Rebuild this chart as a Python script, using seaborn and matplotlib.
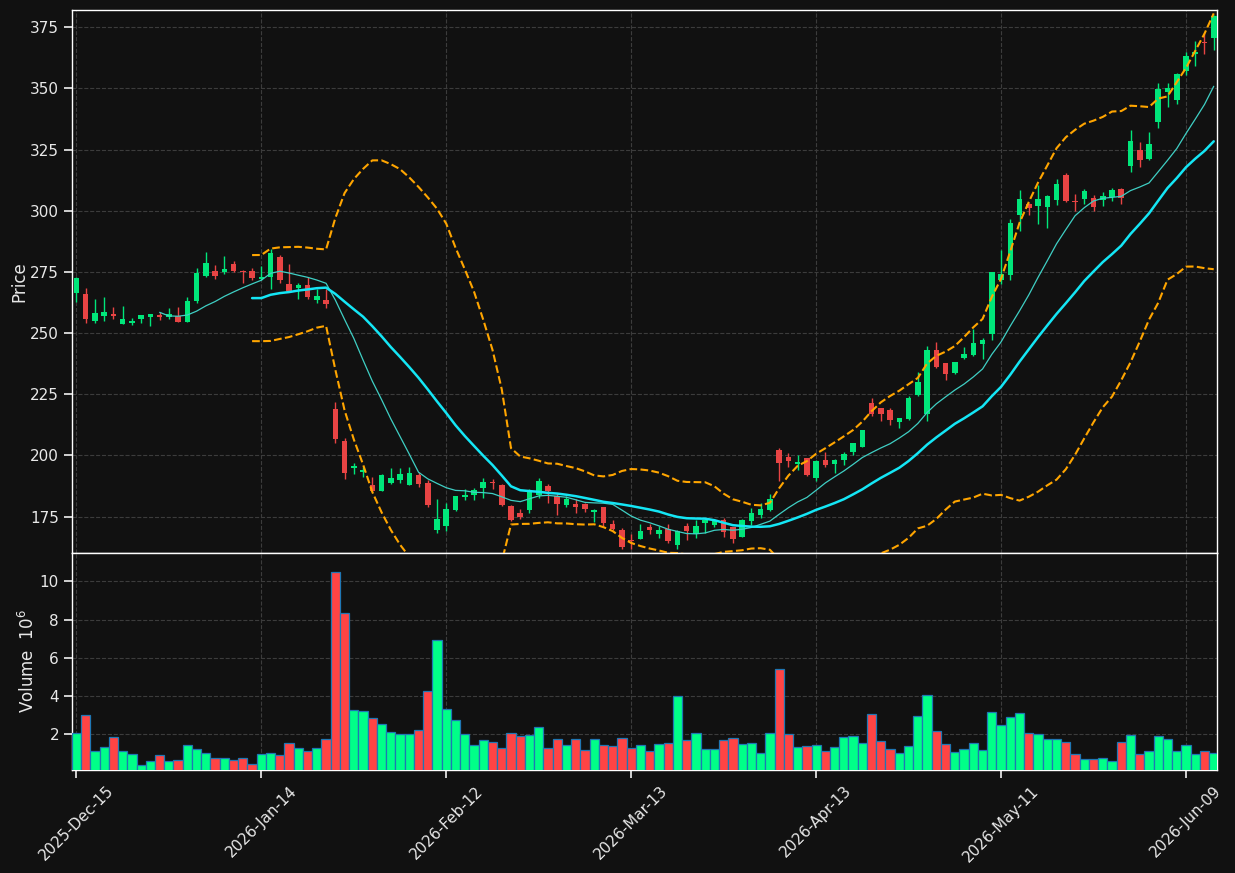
import numpy as np
import pandas as pd
import matplotlib
matplotlib.use("Agg")
import matplotlib.pyplot as plt
from matplotlib.ticker import MultipleLocator, FixedLocator
import seaborn as sns

# daily OHLC (one row per trading day)
opens = [266.5, 266.0, 254.9, 257.0, 257.8, 253.8, 254.2, 255.9, 256.7, 257.4,
         256.7, 257.0, 254.5, 263.1, 273.3, 275.4, 274.9, 278.2, 275.2, 275.4,
         272.0, 273.0, 281.1, 270.0, 268.4, 269.6, 263.5, 263.5, 218.9, 205.8,
         194.9, 193.4, 187.7, 185.6, 188.6, 190.1, 187.7, 191.8, 188.6, 169.7,
         171.3, 177.6, 182.8, 183.7, 186.5, 189.3, 187.7, 179.5, 176.5, 177.5,
         184.0, 187.3, 183.2, 179.9, 180.2, 180.3, 176.8, 178.7, 172.0, 169.7,
         165.5, 166.0, 170.6, 167.8, 170.0, 163.5, 171.3, 167.8, 172.5, 171.7,
         173.4, 170.6, 166.8, 173.1, 175.8, 177.7, 202.0, 199.5, 196.5, 198.9,
         190.7, 198.3, 196.3, 198.3, 201.2, 203.6, 221.6, 219.2, 218.4, 213.6,
         214.7, 224.6, 217.0, 242.9, 237.6, 233.6, 239.7, 241.1, 245.6, 249.6,
         271.5, 273.6, 298.1, 302.9, 301.8, 301.4, 304.2, 314.5, 303.8, 304.7,
         305.3, 304.2, 305.6, 309.0, 318.3, 325.0, 321.0, 336.3, 348.4, 345.1,
         357.0, 364.2, 368.9, 370.6]
highs = [272.9, 268.3, 263.8, 264.6, 260.5, 260.9, 256.0, 257.4, 257.8, 258.7,
         260.1, 260.5, 264.6, 276.4, 283.0, 277.8, 281.4, 279.4, 275.8, 276.6,
         277.4, 284.2, 281.9, 278.2, 270.6, 272.9, 267.9, 267.9, 221.8, 206.9,
         196.7, 195.2, 191.1, 192.2, 194.8, 194.8, 195.4, 193.1, 190.0, 182.0,
         180.5, 183.5, 186.3, 186.7, 190.8, 190.4, 188.4, 179.8, 178.1, 186.3,
         190.8, 188.4, 184.5, 183.2, 182.1, 180.5, 178.1, 179.1, 173.6, 170.2,
         167.9, 172.0, 172.0, 171.2, 172.0, 169.5, 172.4, 173.6, 174.0, 174.2,
         174.5, 170.9, 174.0, 178.5, 180.5, 184.3, 203.1, 201.0, 200.1, 199.1,
         198.2, 201.3, 198.4, 201.4, 205.1, 210.4, 223.5, 219.4, 219.4, 215.4,
         224.1, 234.0, 244.5, 246.3, 237.8, 238.3, 244.3, 251.8, 248.1, 274.8,
         283.8, 296.7, 308.3, 303.2, 310.4, 306.3, 313.1, 315.4, 306.7, 309.0,
         306.3, 307.7, 309.4, 309.3, 333.1, 328.1, 332.2, 352.0, 352.0, 356.3,
         364.9, 369.4, 372.7, 379.8]
lows = [262.8, 254.0, 254.2, 255.0, 255.9, 253.8, 253.4, 254.2, 253.0, 255.3,
        255.9, 254.5, 254.5, 262.1, 272.9, 272.1, 274.1, 274.9, 270.3, 271.7,
        271.7, 267.9, 270.3, 266.8, 263.8, 263.8, 262.4, 260.1, 204.9, 190.3,
        192.2, 191.1, 185.4, 185.6, 188.4, 188.6, 187.7, 187.0, 178.8, 168.3,
        169.0, 177.3, 181.8, 181.8, 182.6, 186.3, 179.4, 173.1, 173.9, 176.4,
        182.6, 180.5, 175.5, 179.1, 176.4, 176.9, 172.7, 171.3, 169.3, 161.8,
        161.8, 165.7, 167.9, 166.3, 164.1, 161.8, 165.5, 166.3, 168.2, 170.9,
        166.5, 164.1, 166.5, 171.5, 174.5, 177.2, 189.5, 195.2, 194.1, 191.5,
        189.5, 195.2, 192.7, 196.1, 200.2, 203.4, 216.0, 213.9, 212.5, 211.3,
        214.3, 224.4, 213.9, 235.8, 230.9, 233.3, 239.3, 240.8, 239.5, 247.3,
        269.9, 271.8, 291.8, 298.1, 294.7, 293.1, 302.2, 303.7, 299.9, 302.6,
        299.9, 302.1, 304.0, 302.9, 315.8, 317.9, 320.9, 333.6, 342.4, 343.8,
        355.4, 359.1, 364.2, 365.6]
closes = [272.5, 255.7, 258.2, 258.6, 257.0, 255.7, 255.0, 257.4, 257.8, 256.7,
          257.8, 254.5, 263.1, 274.5, 278.6, 273.3, 276.2, 275.4, 274.9, 272.5,
          272.8, 282.7, 271.7, 267.2, 269.6, 264.7, 265.1, 262.0, 206.8, 192.9,
          195.6, 194.1, 185.6, 191.8, 190.8, 192.5, 192.9, 188.1, 179.9, 174.2,
          177.9, 183.2, 184.0, 185.9, 189.3, 188.6, 179.6, 173.6, 174.7, 185.9,
          189.5, 185.6, 180.0, 182.0, 179.1, 178.0, 177.5, 172.3, 169.8, 162.5,
          165.2, 168.9, 169.4, 169.3, 165.2, 169.0, 168.9, 171.2, 173.4, 173.4,
          168.6, 165.7, 173.4, 176.6, 178.0, 182.2, 196.8, 197.9, 197.1, 191.8,
          197.9, 195.9, 198.2, 200.6, 204.9, 210.2, 216.9, 216.9, 214.4, 215.1,
          223.5, 229.8, 242.9, 236.1, 233.3, 238.0, 241.5, 246.0, 247.0, 274.8,
          274.2, 295.1, 304.9, 301.1, 304.9, 305.9, 310.8, 304.0, 303.6, 307.9,
          301.5, 306.2, 308.6, 305.2, 328.4, 320.6, 327.4, 349.9, 350.0, 356.0,
          363.1, 364.9, 368.6, 379.5]
# volume in millions
volumes = [2.05, 3.0, 1.1, 1.32, 1.84, 1.1, 0.95, 0.37, 0.58, 0.9,
           0.58, 0.63, 1.42, 1.21, 1.0, 0.72, 0.74, 0.63, 0.74, 0.42,
           0.95, 1.0, 0.9, 1.53, 1.26, 1.1, 1.26, 1.74, 10.47, 8.32,
           3.26, 3.21, 2.84, 2.53, 2.1, 2.0, 2.0, 2.21, 4.26, 6.95,
           3.32, 2.74, 2.0, 1.42, 1.68, 1.58, 1.26, 2.05, 1.9, 1.95,
           2.37, 1.26, 1.74, 1.42, 1.74, 1.16, 1.74, 1.42, 1.37, 1.79,
           1.26, 1.42, 1.1, 1.47, 1.53, 4.0, 1.68, 2.05, 1.21, 1.21,
           1.68, 1.79, 1.47, 1.53, 1.0, 2.05, 5.42, 2.0, 1.32, 1.37,
           1.42, 1.1, 1.32, 1.84, 1.9, 1.53, 3.05, 1.63, 1.21, 1.0,
           1.37, 2.95, 4.05, 2.16, 1.47, 1.05, 1.21, 1.53, 1.16, 3.16,
           2.47, 2.89, 3.1, 2.05, 2.0, 1.74, 1.74, 1.58, 0.95, 0.68,
           0.68, 0.74, 0.58, 1.58, 1.95, 0.95, 1.1, 1.9, 1.74, 1.1,
           1.42, 0.95, 1.1, 1.0]

start_date = "2025-12-15"
holidays = ["2025-12-25", "2026-01-01", "2026-01-19", "2026-02-16",
            "2026-04-03", "2026-05-25"]

dates = pd.date_range(start_date, periods=len(closes),
                      freq=pd.offsets.CustomBusinessDay(holidays=holidays))
df = pd.DataFrame({"open": opens, "high": highs, "low": lows,
                   "close": closes, "volume": volumes}, index=dates)
df["ma10"] = df["close"].rolling(10).mean()
df["ma20"] = df["close"].rolling(20).mean()
std20 = df["close"].rolling(20).std(ddof=0)
df["bb_up"] = df["ma20"] + 2 * std20
df["bb_lo"] = df["ma20"] - 2 * std20
idx = np.arange(len(df))

bg = "#111111"
sns.set_theme(style="dark", rc={
    "figure.facecolor": bg, "axes.facecolor": bg, "axes.edgecolor": "white",
    "axes.labelcolor": "#e8e8e8", "xtick.color": "#e8e8e8",
    "ytick.color": "#e8e8e8", "text.color": "#e8e8e8",
    "grid.color": "#3c3c3c", "grid.linestyle": "--", "grid.linewidth": 0.8,
    "xtick.bottom": True, "ytick.left": True,
})
plt.rcParams["font.family"] = ["DejaVu Sans"]
plt.rcParams["font.size"] = 10

fig = plt.figure(figsize=(12.35, 8.73), dpi=100)
ax1 = fig.add_axes([0.0585, 0.3671, 0.9269, 0.6214])
ax2 = fig.add_axes([0.0585, 0.1180, 0.9269, 0.2491], sharex=ax1)

up = df["close"].values >= df["open"].values
candle_col = np.where(up, "#00e67a", "#e84444")
vol_col = np.where(up, "#00ff88", "#ff4444")

# candles
ax1.vlines(idx, df["low"], df["high"], colors=candle_col, linewidth=1.0, zorder=2)
body = np.abs(df["close"] - df["open"]).clip(lower=0.35)
ax1.bar(idx, body, bottom=np.minimum(df["open"], df["close"]),
        width=0.6, color=candle_col, linewidth=0, zorder=3)

# moving averages and bollinger bands
sns.lineplot(x=idx, y=df["ma10"].values, ax=ax1, color="#3fcfc4",
             linewidth=0.9, estimator=None, zorder=4)
sns.lineplot(x=idx, y=df["ma20"].values, ax=ax1, color="#14e6f5",
             linewidth=1.8, estimator=None, zorder=4)
for col in ["bb_up", "bb_lo"]:
    sns.lineplot(x=idx, y=df[col].values, ax=ax1, color="#ffa500",
                 linewidth=1.5, linestyle="--", estimator=None, zorder=4)

ax1.set_ylim(160.3, 382.0)
ax1.yaxis.set_major_locator(MultipleLocator(25))
ax1.set_ylabel("Price", labelpad=1.5)
ax1.tick_params(axis="x", labelbottom=False, length=0)

# volume
ax2.bar(idx, df["volume"], width=1.0, color=vol_col,
        edgecolor="#1f77b4", linewidth=0.9, zorder=3)
ax2.set_ylim(0.3 * df["volume"].min(), 1.1 * df["volume"].max())
ax2.set_ylabel("Volume  $10^{6}$", labelpad=1.5)

tick_pos = idx[::20]
ax2.xaxis.set_major_locator(FixedLocator(tick_pos))
ax2.set_xticklabels([d.strftime("%Y-%b-%d") for d in df.index[tick_pos]],
                    rotation=45)
ax1.set_xlim(-0.45, 123.35)

for ax in (ax1, ax2):
    ax.grid(True, zorder=0)
    ax.set_axisbelow(True)
    for s in ax.spines.values():
        s.set_color("white")
        s.set_linewidth(1.0)
    ax.set_xlabel("")

fig.savefig("out.png", dpi=100, facecolor=bg)
